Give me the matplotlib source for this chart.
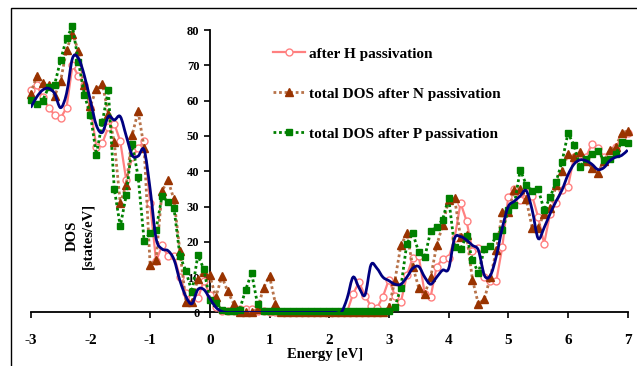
import numpy as np
import matplotlib
matplotlib.use("Agg")
import matplotlib.pyplot as plt
from matplotlib.path import Path
from matplotlib.patches import PathPatch, Rectangle

plt.rcParams['font.family'] = ['Liberation Serif', 'DejaVu Serif']
plt.rcParams['font.weight'] = 'bold'
plt.rcParams['axes.unicode_minus'] = False

# energy grid, 0.1 eV steps from -3 to 7
energy = np.round(np.linspace(-3, 7, 101), 1)

# blue curve (no legend entry)
dos_blue = [58, 61, 63, 63.5, 62, 58, 62, 72, 72, 67,
            60, 53, 51, 55.5, 54.5, 55.5, 50, 44.5, 44.3, 46,
            35, 21, 18, 17.5, 15, 9, 4.5, 2.5, 6.5, 6.5,
            4, 1.5, 0.3] + [0] * 20 + [
            4, 10, 7, 5, 13.5, 12.5, 10,
            9, 8, 8, 10, 12.5, 13, 10, 8, 10, 12,
            12.4, 21, 21.5, 20.5, 19, 17.6, 10.5, 10.5, 16, 24,
            30, 31.5, 33, 34.5, 29, 21, 24, 28, 31.5, 34.7,
            39, 42, 43.2, 43, 42, 40.5, 41, 43, 44, 44.5,
            46]

# after H passivation
dos_h = [63, 64.5, 61, 58, 56, 55, 58, 70, 67, 64.5,
         58, 47, 48, 52.5, 53.5, 48.5, 37.5, 44, 46.5, 48.5,
         31, 14.5, 19, 16, 16, 10, 5.5, 4, 4, 9,
         5, 1.5, 0.5, 0.3, 0.5, 1, 1, 1, 0.5, 0.3] + [0.2] * 14 + [
         5.3, 8.6, 4.8, 1.7, 1.2, 4.5,
         9.3, 4.8, 2.9, 10.5, 15.5, 16, 5.3, 4.5, 13, 15.2,
         15.4, 21, 31, 26, 17.4, 18.3, 10, 9, 9, 18.6,
         32.8, 35, 31.8, 34, 33, 27, 19.5, 28, 31, 34.7,
         35.6, 44, 43, 44, 47.7, 46.5, 44, 45, 47, 49.3,
         50.8]

# total DOS after N passivation
dos_n = [62, 67, 65, 64.5, 61.3, 65.5, 74.4, 79, 74, 64.5,
         58.5, 63.3, 64.8, 56.3, 48.3, 31, 36, 50.3, 57, 46.6,
         13.5, 15, 34.5, 37.4, 32, 17.3, 3, 3, 9.6, 11.5,
         10.5, 4.3, 10.2, 6, 2.5, 0, 0, 0, 1, 7,
         10.3, 2.5] + [0] * 18 + [
         1.5, 9, 19, 22.4, 13, 7, 5.3, 10, 19, 24.7,
         31.8, 32.3, 21.4, 22, 9.3, 2.3, 3.9, 10, 17.6, 28.5,
         28.5, 34.7, 35, 32, 24, 24, 28, 29.5, 36, 40,
         45, 44, 45.5, 43, 41, 39.4, 43, 46, 47, 50.8,
         51.5]

# total DOS after P passivation
dos_p = [60.2, 59, 60, 63.8, 64.5, 71.4, 77.7, 81, 71, 61.5,
         56, 44.7, 54, 63, 35, 24.4, 33.2, 47.8, 38.4, 20.3,
         22.5, 23.5, 33, 31.3, 29.5, 16, 11.7, 5.8, 16.2, 12.3,
         3.6, 2.6, 0.8, 0.5, 0.5, 0.8, 6.4, 11.2, 2.3] + [0.3] * 21 + [
         0.5, 1.5, 7, 19.5, 22.4, 17.1, 15.6, 23.1, 24.2, 26.3,
         32.5, 18.6, 18, 21.6, 14.8, 11.2, 18.1, 18.8, 21.6, 23.3,
         29, 30.5, 40.4, 36.2, 34.5, 35, 29, 32.6, 37, 42.7,
         50.8, 47.4, 41.3, 43.4, 45, 45.8, 43.2, 43.5, 44.8, 48.4,
         48]

labels = ['after H passivation',
          'total DOS after N passivation',
          'total DOS after P passivation']


def smooth_path(x, y):
    # Catmull-Rom style bezier through the points (like a smoothed line)
    pts = np.column_stack([x, y])
    verts = [pts[0]]
    codes = [Path.MOVETO]
    n = len(pts)
    for i in range(n - 1):
        p0 = pts[max(i - 1, 0)]
        p1 = pts[i]
        p2 = pts[i + 1]
        p3 = pts[min(i + 2, n - 1)]
        c1 = p1 + (p2 - p0) / 6.0
        c2 = p2 - (p3 - p1) / 6.0
        verts += [c1, c2, p2]
        codes += [Path.CURVE4] * 3
    return Path(verts, codes)


fig = plt.figure(figsize=(6.37, 3.66), dpi=100)
ax = fig.add_axes([0.0482, 0.1462, 0.9372, 0.7718])

l_h, = ax.plot(energy, dos_h, color='#ff8080', lw=1.6, marker='o', ms=5,
               mfc='white', mec='#ff8080', mew=1.0, zorder=3, clip_on=False)
l_n, = ax.plot(energy, dos_n, color='#b8734a', lw=2.0, ls=(0, (1, 1)),
               marker='^', ms=5.5, mfc='#993300', mec='#993300', zorder=4, clip_on=False)
l_p, = ax.plot(energy, dos_p, color='#008000', lw=2.0, ls=(0, (1, 1)),
               marker='s', ms=4.5, mfc='#008000', mec='#008000', zorder=5, clip_on=False)
ax.add_patch(PathPatch(smooth_path(energy, dos_blue), fill=False,
                       ec='#000080', lw=2.0, zorder=6, transform=ax.transData))

ax.set_xlim(-3, 7)
ax.set_ylim(0, 80)
ax.set_xticks(range(-3, 8))
ax.set_yticks(range(0, 81, 10))
ax.spines['left'].set_position(('data', 0))
ax.spines['right'].set_visible(False)
ax.spines['top'].set_visible(False)
for s in ['left', 'bottom']:
    ax.spines[s].set_linewidth(1.3)
    ax.spines[s].set_zorder(2)
ax.tick_params(axis='x', direction='out', length=4, width=1.2, pad=11.5, labelsize=11)
ax.tick_params(axis='y', direction='out', length=4, width=1.2, pad=3.5, labelsize=9)
ax.set_facecolor('none')

ax.set_xlabel('Energy [eV]', fontsize=10.5, fontweight='bold')
ax.xaxis.set_label_coords(0.493, -0.148)
ax.xaxis.label.set_va('center')
ax.text(-2.17, 21.7, 'DOS\n[states/eV]', rotation=90, ha='center', va='center',
        fontsize=10.5, fontweight='bold', linespacing=1.3)

fig.legend([l_h, l_n, l_p], labels, loc='upper left',
           bbox_to_anchor=(273 / 637, 1 - 47 / 366), frameon=False,
           borderpad=0, borderaxespad=0, handlelength=2.1, handletextpad=0.25,
           labelspacing=1.72, prop={'size': 11, 'weight': 'bold'})

# outer frame of the chart area
fig.add_artist(Rectangle((10.5 / 637, -0.05), 1.0, 1 - 7.5 / 366 + 0.05,
                         transform=fig.transFigure, fill=False, lw=1, ec='black'))

fig.savefig('out.png', dpi=100)
